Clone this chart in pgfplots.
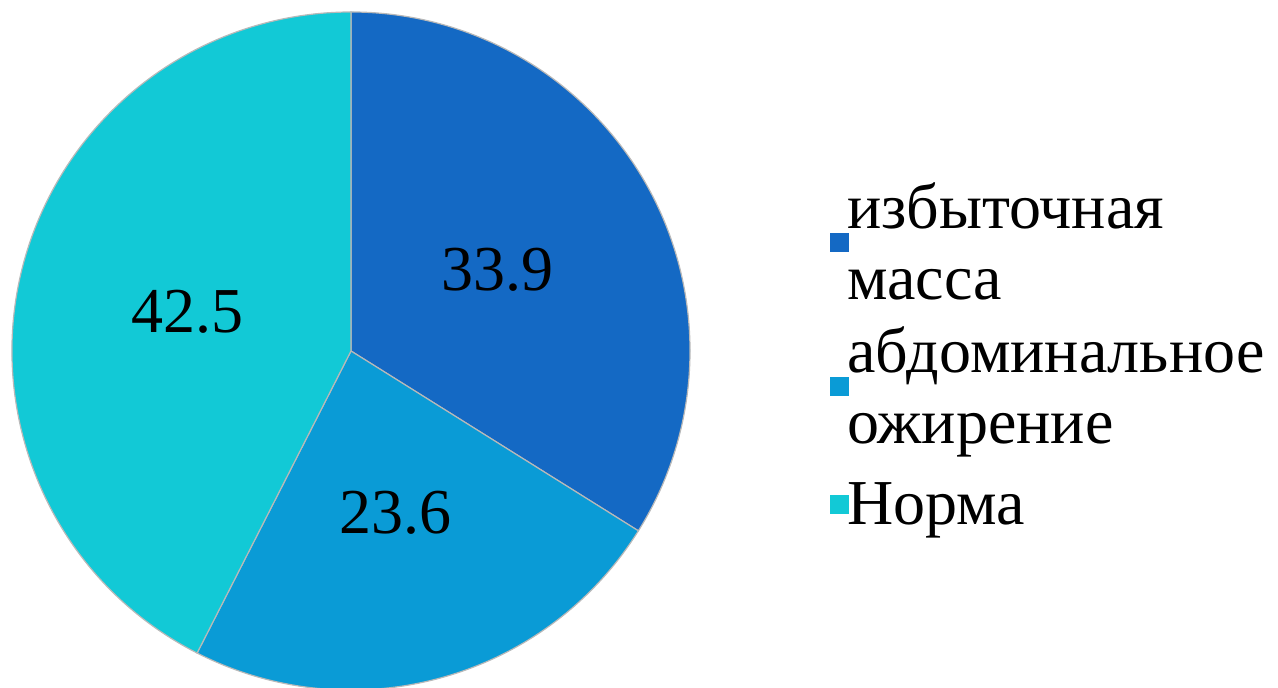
\documentclass[border=0pt]{standalone}
\usepackage{pgfplots}
\pgfplotsset{compat=1.18}
\usepackage{fontspec}
\setmainfont{Liberation Serif}

\definecolor{massa}{HTML}{1469C4}
\definecolor{abdom}{HTML}{0A9BD6}
\definecolor{norma}{HTML}{12C9D6}

% one pie slice per point: start and value are percentages, clockwise from the top
\pgfdeclareplotmark{wedge}{%
  \pgfmathsetmacro\angA{90-3.6*\pstart}%
  \pgfmathsetmacro\angB{90-3.6*(\pstart+\pval)}%
  \pgfmathsetmacro\angM{(\angA+\angB)/2}%
  \pgfpathmoveto{\pgfpointorigin}%
  \pgfpathlineto{\pgfpointpolar{\angA}{169.5pt}}%
  \pgfpatharc{\angA}{\angB}{169.5pt}%
  \pgfpathclose
  \pgfusepathqfillstroke
  \pgftext[at={\pgfpointpolar{\angM}{84pt}}]{\color{black}\fontsize{32}{36}\selectfont\pval}%
}

\pgfplotsset{
  slice/.style n args={2}{only marks, mark=wedge,
    mark options={draw=gray!55, fill=#1, line width=0.6pt},
    visualization depends on=value \thisrow{start} \as \pstart,
    visualization depends on=value \thisrow{value} \as \pval,
    legend image code/.code={%
      \path[use as bounding box] (0pt,0pt) (9pt,0pt);
      \fill[#1] (3pt,-4.5pt+#2) rectangle (12pt,4.5pt+#2);}},
}

\begin{document}
\begin{tikzpicture}
\begin{axis}[
  width=639pt, height=344pt, scale only axis,
  xmin=0, xmax=1278, ymin=0, ymax=688,
  hide axis, clip=false,
  legend cell align=left,
  legend style={at={(axis cs:824,510)}, anchor=north west, draw=none, fill=none,
    font=\fontsize{32}{35.5}\selectfont, cells={align=left}, row sep=8pt, inner sep=0pt},
]
\addplot[slice={massa}{0pt}] table {
x y start value
351 337 0 33.9
};
\addplot[slice={abdom}{0pt}] table {
x y start value
351 337 33.9 23.6
};
\addplot[slice={norma}{-3pt}] table {
x y start value
351 337 57.5 42.5
};
\legend{{избыточная\\масса},{абдоминальное\\ожирение},\rule{0pt}{27pt}Норма}
\end{axis}
\pgfresetboundingbox
\path (current axis.south west) rectangle (current axis.north east);
\end{tikzpicture}
\end{document}
